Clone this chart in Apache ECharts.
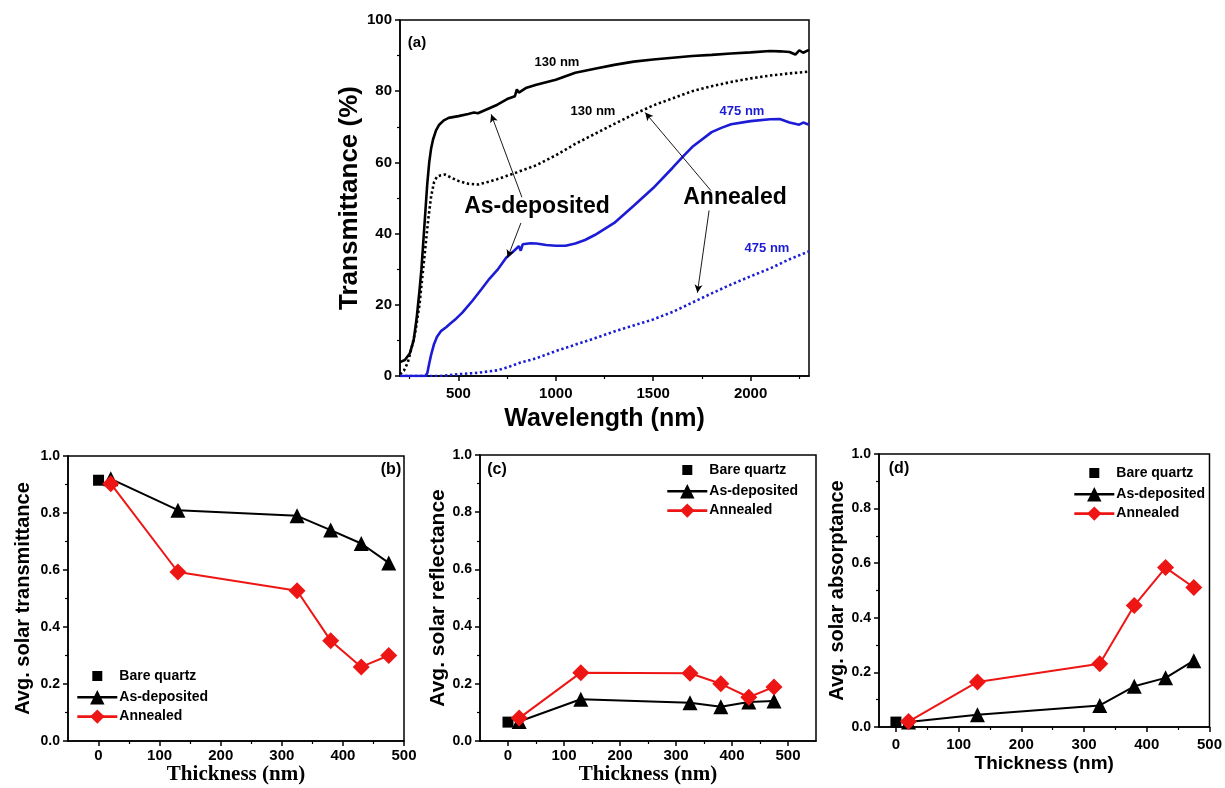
<!DOCTYPE html>
<html>
<head>
<meta charset="utf-8">
<script src="https://cdn.jsdelivr.net/npm/echarts@6/dist/echarts.min.js"></script>
<style>
  html, body { margin: 0; padding: 0; background: #fff; }
  #chart { width: 1225px; height: 788px; }
</style>
</head>
<body>
<div id="chart"></div>
<script>
// ---------- (a) transmittance spectra ----------
const wlAsDep130 = [200, 225, 250, 270, 285, 300, 310, 320, 330, 340, 350, 360, 370, 385, 400, 425, 450, 500, 550, 580, 600, 650, 700, 750, 790, 800, 810, 850, 900, 1000, 1100, 1200, 1300, 1400, 1500, 1600, 1700, 1800, 1900, 2000, 2100, 2150, 2200, 2230, 2250, 2270, 2300];
const tAsDep130 = [3.9, 4.5, 6.3, 10, 16, 24, 30, 38, 46, 54, 60, 64, 66.5, 69, 70.5, 71.8, 72.5, 73, 73.6, 74, 73.8, 75, 76.2, 77.8, 78.6, 80.5, 79.6, 81, 81.8, 83.2, 85.2, 86.3, 87.4, 88.3, 88.9, 89.4, 89.9, 90.2, 90.6, 90.9, 91.3, 91.2, 91.0, 90.3, 91.5, 90.8, 91.6];

const wlAnn130 = [200, 220, 240, 260, 280, 300, 315, 330, 345, 360, 375, 390, 410, 430, 460, 500, 550, 600, 650, 700, 800, 900, 1000, 1100, 1200, 1300, 1400, 1500, 1600, 1700, 1800, 1900, 2000, 2100, 2200, 2300];
const tAnn130 = [0.5, 1.5, 3.8, 8, 12.8, 20, 28, 36, 44, 50.5, 54.5, 56, 56.4, 56.6, 55.8, 54.8, 54, 53.8, 54.5, 55.3, 57.2, 59.2, 62, 65.2, 68, 70.8, 73.5, 76, 78, 80, 81.4, 82.6, 83.6, 84.4, 85, 85.5];

const wlAsDep475 = [200, 300, 330, 340, 350, 360, 375, 390, 410, 437, 460, 488, 520, 573, 620, 659, 700, 745, 790, 810, 820, 830, 870, 900, 950, 1000, 1050, 1100, 1150, 1200, 1300, 1400, 1500, 1600, 1650, 1700, 1800, 1850, 1900, 2000, 2100, 2150, 2200, 2250, 2270, 2300];
const tAsDep475 = [0, 0, 0, 0.8, 3.5, 6, 9, 11, 12.6, 13.7, 14.8, 16.1, 17.8, 21.2, 24.5, 27.3, 29.8, 33.2, 35.4, 36.5, 35.2, 37, 37.3, 37.2, 36.8, 36.6, 36.6, 37.2, 38.2, 39.6, 43, 47.8, 52.8, 58.5, 61.5, 64.3, 68.5, 69.7, 70.7, 71.6, 72.1, 72.2, 71.2, 70.6, 71.2, 70.6];

const wlAnn475 = [200, 300, 400, 450, 500, 600, 700, 760, 800, 820, 850, 900, 1000, 1100, 1200, 1300, 1400, 1500, 1600, 1700, 1800, 1900, 2000, 2100, 2200, 2300];
const tAnn475 = [0, 0, 0, 0.2, 0.5, 0.9, 1.6, 2.6, 3.4, 3.8, 4.2, 5, 7, 8.8, 10.6, 12.5, 14.2, 15.9, 18, 20.6, 23.2, 25.7, 28, 30.2, 32.8, 35];

const specXTicks = [500, 1000, 1500, 2000];
const specXMinor = [250, 750, 1250, 1750, 2250];

// ---------- (b)-(d) averages against film thickness ----------
const bareThickness = [0];
const filmThickness = [20, 130, 325, 380, 430, 475];

const bareTrans = [0.915];
const asDepTrans = [0.92, 0.81, 0.79, 0.74, 0.693, 0.625];
const annTrans = [0.903, 0.593, 0.527, 0.352, 0.26, 0.30];

const bareRefl = [0.066];
const asDepRefl = [0.068, 0.146, 0.134, 0.12, 0.136, 0.14];
const annRefl = [0.08, 0.239, 0.237, 0.2, 0.153, 0.189];

const bareAbs = [0.018];
const asDepAbs = [0.018, 0.045, 0.079, 0.149, 0.18, 0.243];
const annAbs = [0.02, 0.165, 0.232, 0.445, 0.584, 0.511];

const thickTicks = [0, 100, 200, 300, 400, 500];
const thickMinor = [50, 150, 250, 350, 450];

// ---------- styling ----------
const SANS = '"Liberation Sans", Arial, Helvetica, sans-serif';
const SERIF = '"Liberation Serif", "Times New Roman", serif';
const BLACK = '#000000';
const BLUE = '#1c1cd6';
const RED = '#ee1515';

const zip = (xs, ys) => xs.map((x, i) => [x, ys[i]]);

function xAxisPair(gridIndex, min, max, ticks, minor, name, o) {
  const main = {
    type: 'value', gridIndex, min, max, position: 'bottom',
    axisLine: { show: true, onZero: false, lineStyle: { color: BLACK, width: 1.5 } },
    axisTick: { show: true, customValues: ticks, length: 5, lineStyle: { color: BLACK, width: 1.5 } },
    axisLabel: {
      customValues: ticks, margin: o.labelMargin, color: BLACK,
      fontFamily: SANS, fontWeight: 'bold', fontSize: o.labelSize,
      formatter: v => String(v)
    },
    splitLine: { show: false },
    name, nameLocation: 'middle', nameGap: o.nameGap,
    nameTextStyle: { color: BLACK, fontFamily: o.nameFont, fontWeight: 'bold', fontSize: o.nameSize }
  };
  const minorAxis = {
    type: 'value', gridIndex, min, max, position: 'bottom',
    axisLine: { show: false },
    axisTick: { show: true, customValues: minor, length: 3, lineStyle: { color: BLACK, width: 1.2 } },
    axisLabel: { show: false },
    splitLine: { show: false }
  };
  return [main, minorAxis];
}

function yAxisFor(gridIndex, max, interval, name, o) {
  return {
    type: 'value', gridIndex, min: 0, max, interval, position: 'left',
    axisLine: { show: true, onZero: false, lineStyle: { color: BLACK, width: 1.5 } },
    axisTick: { show: true, length: 5, lineStyle: { color: BLACK, width: 1.5 } },
    minorTick: { show: true, splitNumber: 2, length: 3, lineStyle: { color: BLACK, width: 1.2 } },
    axisLabel: {
      margin: o.labelMargin, color: BLACK, fontFamily: SANS, fontWeight: 'bold', fontSize: o.labelSize,
      formatter: v => v.toFixed(o.decimals)
    },
    splitLine: { show: false },
    name, nameLocation: 'middle', nameGap: o.nameGap,
    nameTextStyle: { color: BLACK, fontFamily: SANS, fontWeight: 'bold', fontSize: o.nameSize }
  };
}

const gridBox = { show: true, borderColor: BLACK, borderWidth: 1.5, backgroundColor: 'transparent', containLabel: false };

const grids = [
  Object.assign({ left: 400, top: 20, width: 409, height: 356 }, gridBox),
  Object.assign({ left: 68, top: 456, width: 336, height: 285 }, gridBox),
  Object.assign({ left: 480, top: 455, width: 336, height: 286 }, gridBox),
  Object.assign({ left: 879, top: 454, width: 336, height: 273 }, gridBox)
];

const xAxes = [].concat(
  xAxisPair(0, 200, 2300, specXTicks, specXMinor, 'Wavelength (nm)',
    { labelMargin: 10, labelSize: 15, nameGap: 31, nameFont: SANS, nameSize: 25 }),
  xAxisPair(1, -50, 500, thickTicks, thickMinor, 'Thickness (nm)',
    { labelMargin: 7, labelSize: 15, nameGap: 18, nameFont: SERIF, nameSize: 21 }),
  xAxisPair(2, -50, 550, thickTicks, thickMinor, 'Thickness (nm)',
    { labelMargin: 7, labelSize: 15, nameGap: 18, nameFont: SERIF, nameSize: 21 }),
  xAxisPair(3, -27, 500, thickTicks, thickMinor, 'Thickness (nm)',
    { labelMargin: 10, labelSize: 15, nameGap: 27, nameFont: SANS, nameSize: 19 })
);

const yAxes = [
  yAxisFor(0, 100, 20, 'Transmittance (%)', { labelMargin: 8, labelSize: 15, nameGap: 36, nameSize: 26, decimals: 0 }),
  yAxisFor(1, 1, 0.2, 'Avg. solar transmittance', { labelMargin: 8, labelSize: 14, nameGap: 35, nameSize: 20, decimals: 1 }),
  yAxisFor(2, 1, 0.2, 'Avg. solar reflectance', { labelMargin: 8, labelSize: 14, nameGap: 25, nameSize: 21, decimals: 1 }),
  yAxisFor(3, 1, 0.2, 'Avg. solar absorptance', { labelMargin: 8, labelSize: 14, nameGap: 27, nameSize: 20, decimals: 1 })
];

// Arrows that tie the "As-deposited" / "Annealed" notes to their curves (data space of panel a)
const arrowLines = [
  [[826, 50.2], [668, 73.5]],
  [[821, 43], [752, 33.2]],
  [[1796, 52.1], [1459, 74.0]],
  [[1787, 46.5], [1727, 23.4]]
];

function spectrum(name, xs, ys, color, dotted, extra) {
  return Object.assign({
    name, type: 'line', xAxisIndex: 0, yAxisIndex: 0,
    data: zip(xs, ys), showSymbol: false, symbol: 'none', clip: true,
    lineStyle: dotted
      ? { color, width: 2.6, type: [2.4, 2.6], cap: 'butt' }
      : { color, width: 2.6, type: 'solid' },
    itemStyle: { color },
    emphasis: { disabled: true }, silent: true, z: 3
  }, extra || {});
}

function thicknessSeries(panel, bare, asDep, ann) {
  const xi = 2 * panel, yi = panel;
  return [
    {
      name: 'Bare quartz', type: 'scatter', xAxisIndex: xi, yAxisIndex: yi,
      data: zip(bareThickness, bare), symbol: 'rect', symbolSize: 11,
      itemStyle: { color: BLACK, opacity: 1 }, z: 3
    },
    {
      name: 'As-deposited', type: 'line', xAxisIndex: xi, yAxisIndex: yi,
      data: zip(filmThickness, asDep), symbol: 'triangle', symbolSize: 15, showSymbol: true,
      lineStyle: { color: BLACK, width: 2 }, itemStyle: { color: BLACK }, z: 3
    },
    {
      name: 'Annealed', type: 'line', xAxisIndex: xi, yAxisIndex: yi,
      data: zip(filmThickness, ann), symbol: 'diamond', symbolSize: 17, showSymbol: true,
      lineStyle: { color: RED, width: 2 }, itemStyle: { color: RED }, z: 4
    }
  ];
}

const series = [
  spectrum('As-deposited 130 nm', wlAsDep130, tAsDep130, BLACK, false, {
    markLine: {
      silent: true, animation: false,
      symbol: ['none', 'arrow'], symbolSize: [6, 8],
      lineStyle: { color: BLACK, width: 0.9, type: 'solid' },
      label: { show: false },
      emphasis: { disabled: true },
      data: arrowLines.map(([a, b]) => [{ coord: a }, { coord: b }])
    }
  }),
  spectrum('Annealed 130 nm', wlAnn130, tAnn130, BLACK, true),
  spectrum('As-deposited 475 nm', wlAsDep475, tAsDep475, BLUE, false),
  spectrum('Annealed 475 nm', wlAnn475, tAnn475, BLUE, true)
].concat(
  thicknessSeries(1, bareTrans, asDepTrans, annTrans),
  thicknessSeries(2, bareRefl, asDepRefl, annRefl),
  thicknessSeries(3, bareAbs, asDepAbs, annAbs)
);

const legendNames = [
  { name: 'Bare quartz', icon: 'path://M0,0M18,18M4,4h10v10h-10z', itemStyle: { color: BLACK, opacity: 1 } },
  { name: 'As-deposited' },
  { name: 'Annealed' }
];
function legendAt(left, top) {
  return {
    data: legendNames, orient: 'vertical', left, top, padding: 0,
    itemWidth: 40, itemHeight: 18, itemGap: 5,
    selectedMode: false,
    lineStyle: { width: 2.6 },
    textStyle: { color: BLACK, fontFamily: SANS, fontWeight: 'bold', fontSize: 14, padding: [0, 0, 0, -3] }
  };
}

function note(text, x, y, size, color, align) {
  return {
    type: 'text', x, y, silent: true,
    style: {
      text, fill: color || BLACK, font: 'bold ' + size + 'px ' + SANS,
      textAlign: align || 'center', textVerticalAlign: 'middle'
    }
  };
}

const option = {
  animation: false,
  backgroundColor: '#ffffff',
  grid: grids,
  xAxis: xAxes,
  yAxis: yAxes,
  legend: [legendAt(76, 667), legendAt(666, 461), legendAt(1073, 464)],
  series,
  graphic: [
    note('(a)', 417, 43, 15),
    note('130 nm', 557, 62, 13),
    note('130 nm', 593, 111, 13),
    note('475 nm', 742, 111, 13, BLUE),
    note('475 nm', 767, 248, 13, BLUE),
    note('As-deposited', 537, 207, 23),
    note('Annealed', 735, 198, 23),
    note('(b)', 391, 470, 16),
    note('(c)', 497, 470, 16),
    note('(d)', 899, 469, 16)
  ]
};

const chart = echarts.init(document.getElementById('chart'), null, { renderer: 'canvas' });
chart.setOption(option);
</script>
</body>
</html>
